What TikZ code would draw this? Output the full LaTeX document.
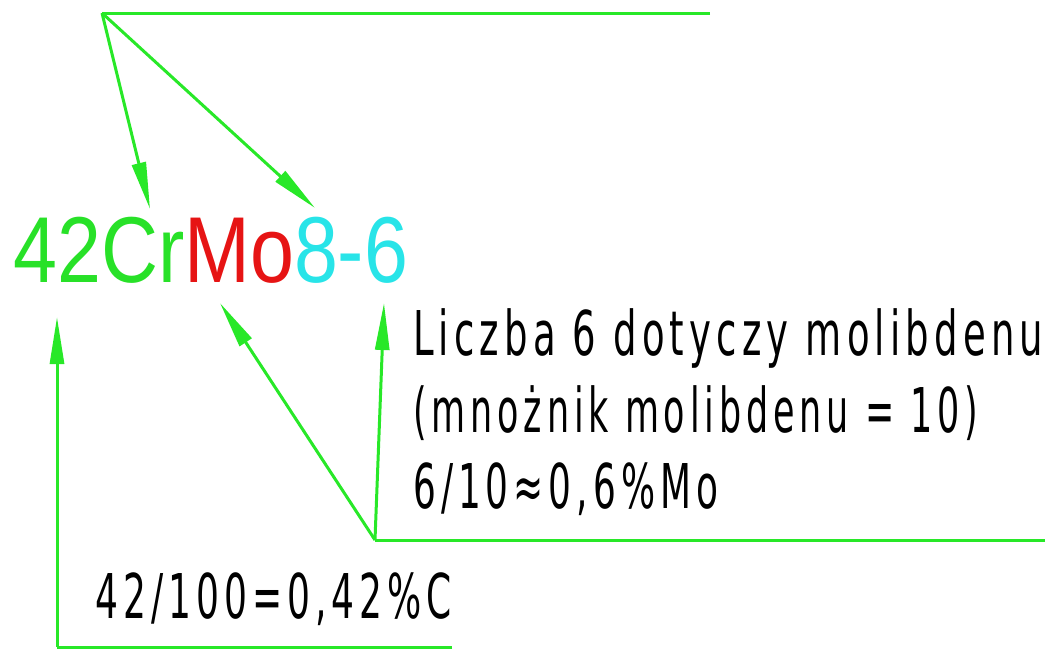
\documentclass[tikz,border=0pt]{standalone}
\usepackage{fontspec}
\usepackage{graphicx}
\setmainfont{Liberation Sans}
\newfontfamily\isofont[LetterSpace=14]{DejaVu Sans}
\usetikzlibrary{arrows.meta}
\definecolor{lgreen}{RGB}{40,232,40}
\definecolor{tgreen}{RGB}{40,225,40}
\definecolor{tred}{RGB}{230,20,20}
\definecolor{tcyan}{RGB}{40,228,232}
\tikzset{
  leader/.style={draw=lgreen, line width=3pt},
  pointer/.style={leader, -{Triangle[length=47pt,width=14pt]}},
  note/.style={inner sep=0pt, anchor=base west, font=\isofont\fontsize{61.7}{70}\selectfont},
  grade/.style={inner sep=0pt, anchor=base west, font=\fontsize{93.6}{100}\selectfont}
}
\begin{document}
\begin{tikzpicture}[x=1pt,y=-1pt]
\useasboundingbox (0,0) rectangle (1054,649);
% main designation
\node[grade] (grade) at (13,282) {\resizebox{395pt}{\height}{\textcolor{tgreen}{42Cr}\textcolor{tred}{Mo}\textcolor{tcyan}{8-6}}};
% notes
\node[note] (l1) at (413,355) {\resizebox{630pt}{\height}{Liczba 6 dotyczy molibdenu}};
\node[note] (l2) at (413,432) {\resizebox{565pt}{\height}{(mnożnik molibdenu = 10)}};
\node[note] (l3) at (413,508) {\resizebox{305pt}{\height}{6/10≈0,6\%Mo}};
\node[note] (l4) at (95,618) {\resizebox{357pt}{\height}{42/100=0,42\%C}};
% coordinates
\coordinate (apex) at (102,13);
\coordinate (topend) at (710,13);
\coordinate (tipCr) at (150,209);
\coordinate (tipEight) at (315,208);
\coordinate (corner) at (57,647);
\coordinate (bottomend) at (452,647);
\coordinate (tipC) at (57,317);
\coordinate (junc) at (375,540);
\coordinate (midend) at (1045,540);
\coordinate (tipMo) at (220,303);
\coordinate (tipSix) at (384,303);
% top leader
\draw[leader] (topend) -- (apex);
\draw[pointer] (apex) -- (tipCr);
\draw[pointer] (apex) -- (tipEight);
% lower leader
\draw[leader] (bottomend) -- (corner);
\draw[pointer] (corner) -- (tipC);
% middle leader
\draw[leader] (midend) -- (junc);
\draw[pointer] (junc) -- (tipMo);
\draw[pointer] (junc) -- (tipSix);
\end{tikzpicture}
\end{document}
